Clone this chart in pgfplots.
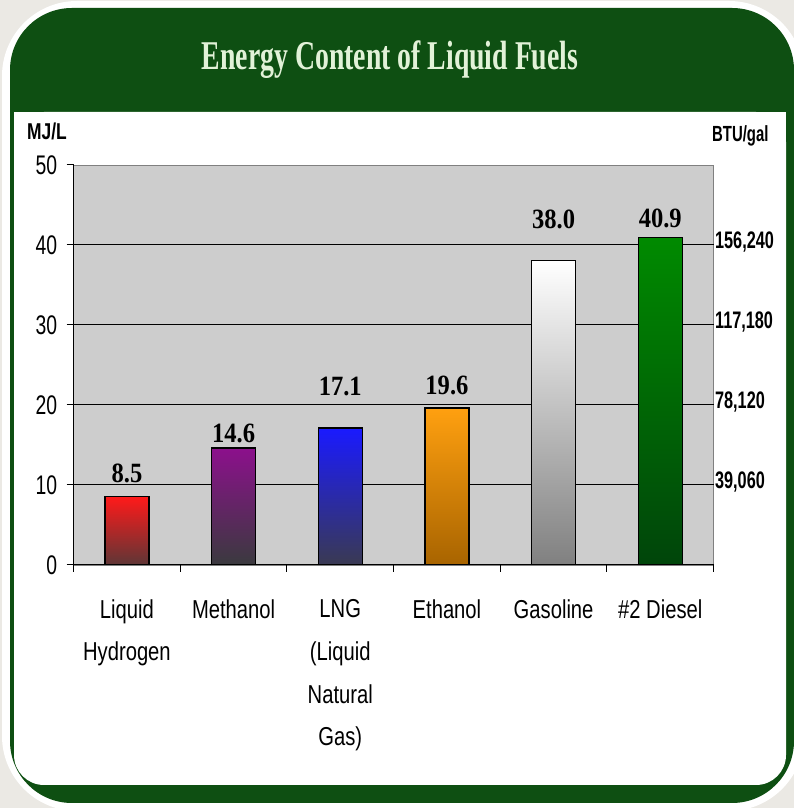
\documentclass[border=0pt]{standalone}
\usepackage{pgfplots}
\pgfplotsset{compat=1.18}
\usepackage{fontspec}
\setmainfont{Liberation Sans}
\newfontfamily\catfont[FakeStretch=0.78]{Liberation Sans}
\newfontfamily\tickfont[FakeStretch=0.72]{Liberation Sans}
\newfontfamily\rightfont[FakeStretch=0.68]{Liberation Sans}
\newfontfamily\unitfont[FakeStretch=0.76]{Liberation Sans}
\newfontfamily\titleserif[FakeStretch=0.68]{Liberation Serif}
\newfontfamily\valserif[FakeStretch=0.88]{Liberation Serif}
\definecolor{bgout}{HTML}{EBE9E4}
\definecolor{framegreen}{HTML}{0E4F12}
\definecolor{titlecol}{HTML}{E2F2D8}
\definecolor{plotbg}{HTML}{CDCDCD}
\definecolor{hTop}{HTML}{FF1A1A}\definecolor{hBot}{HTML}{5E3636}
\definecolor{mTop}{HTML}{8C108C}\definecolor{mBot}{HTML}{3A3A3E}
\definecolor{lTop}{HTML}{1A1AFF}\definecolor{lBot}{HTML}{3A3A52}
\definecolor{eTop}{HTML}{FFA010}\definecolor{eBot}{HTML}{A86400}
\definecolor{gTop}{HTML}{FFFFFF}\definecolor{gBot}{HTML}{808080}
\definecolor{dTop}{HTML}{008A00}\definecolor{dBot}{HTML}{00450A}
\begin{document}
\begin{tikzpicture}[x=1bp,y=1bp]
\useasboundingbox (0,0) rectangle (794,808);
\fill[bgout] (0,0) rectangle (794,808);
\begin{scope}
\clip (0,0) rectangle (794,808);
\fill[white, rounded corners=75bp] (2,-3) rectangle (804,807);
\fill[framegreen, rounded corners=62bp] (10,5) rectangle (794,800);
\fill[white, rounded corners=30bp] (14,23) rectangle (786,696);
\fill[white] (14,600) rectangle (786,696);
\end{scope}
\node[anchor=base, text=titlecol, inner sep=0pt, font=\titleserif\bfseries\fontsize{41}{41}\selectfont] at (390,738) {Energy Content of Liquid Fuels};
\node[anchor=base west, inner sep=0pt, font=\unitfont\bfseries\fontsize{23}{23}\selectfont] at (27,668) {MJ/L};
\node[anchor=base west, inner sep=0pt, font=\rightfont\bfseries\fontsize{22}{22}\selectfont] at (712,666) {BTU/gal};
\begin{axis}[
  at={(69,304)}, anchor=south west, scale only axis,
  width=640bp, height=400bp,
  xmin=-0.5, xmax=5.5, ymin=0, ymax=50,
  axis background/.style={fill=plotbg, draw=gray},
  axis lines=left, axis line style={-, black, line width=1bp},
  xtick={-0.5,0.5,1.5,2.5,3.5,4.5,5.5},
  xticklabels={{Liquid\\Hydrogen},{Methanol},{LNG\\(Liquid\\Natural\\Gas)},{Ethanol},{Gasoline},{\#2 Diesel},{}},
  xticklabel style={xshift=53.33bp, align=center, anchor=north, yshift=-24bp,
     font=\catfont\fontsize{26}{43}\selectfont},
  ytick={0,10,20,30,40}, extra y ticks={50}, extra y tick style={grid=none},
  yticklabel style={font=\tickfont\fontsize{27}{27}\selectfont, xshift=-6bp},
  /pgf/number format/assume math mode=true,
  ymajorgrids, grid style={black, line width=0.9bp},
  tick align=outside, major tick length=7bp,
  tick style={black, line width=0.9bp},
  nodes near coords,
  point meta=explicit symbolic,
  nodes near coords style={font=\valserif\bfseries\fontsize{28}{28}\selectfont, anchor=center, text=black},
  clip=false,
]
\addplot[ybar, bar width=44bp, bar shift=0pt, draw=black, line width=1.2bp, top color=hTop, bottom color=hBot, nodes near coords style={yshift=23bp}] coordinates {(0,8.5) [8.5]};
\addplot[ybar, bar width=44bp, bar shift=0pt, draw=black, line width=1.2bp, top color=mTop, bottom color=mBot, nodes near coords style={yshift=15bp}] coordinates {(1,14.6) [14.6]};
\addplot[ybar, bar width=44bp, bar shift=0pt, draw=black, line width=1.2bp, top color=lTop, bottom color=lBot, nodes near coords style={yshift=42bp}] coordinates {(2,17.1) [17.1]};
\addplot[ybar, bar width=44bp, bar shift=0pt, draw=black, line width=1.2bp, top color=eTop, bottom color=eBot, nodes near coords style={yshift=23bp}] coordinates {(3,19.6) [19.6]};
\addplot[ybar, bar width=44bp, bar shift=0pt, draw=black, line width=1.2bp, top color=gTop, bottom color=gBot, nodes near coords style={yshift=41bp}] coordinates {(4,38.0) [38.0]};
\addplot[ybar, bar width=44bp, bar shift=0pt, draw=black, line width=1.2bp, top color=dTop, bottom color=dBot, nodes near coords style={yshift=19bp}] coordinates {(5,40.9) [40.9]};
\end{axis}
\begin{axis}[
  at={(69,304)}, anchor=south west, scale only axis,
  width=640bp, height=400bp,
  xmin=-0.5, xmax=5.5, ymin=0, ymax=50,
  axis y line*=right, axis x line=none,
  y axis line style={draw=none},
  ytick={10,20,30,40},
  yticklabels={{39,060},{78,120},{117,180},{156,240}},
  major tick length=0pt,
  yticklabel style={font=\rightfont\bfseries\fontsize{24}{24}\selectfont, anchor=west, xshift=-2bp, yshift=3bp},
]
\addplot[draw=none] coordinates {(0,0)};
\end{axis}
\end{tikzpicture}
\end{document}
